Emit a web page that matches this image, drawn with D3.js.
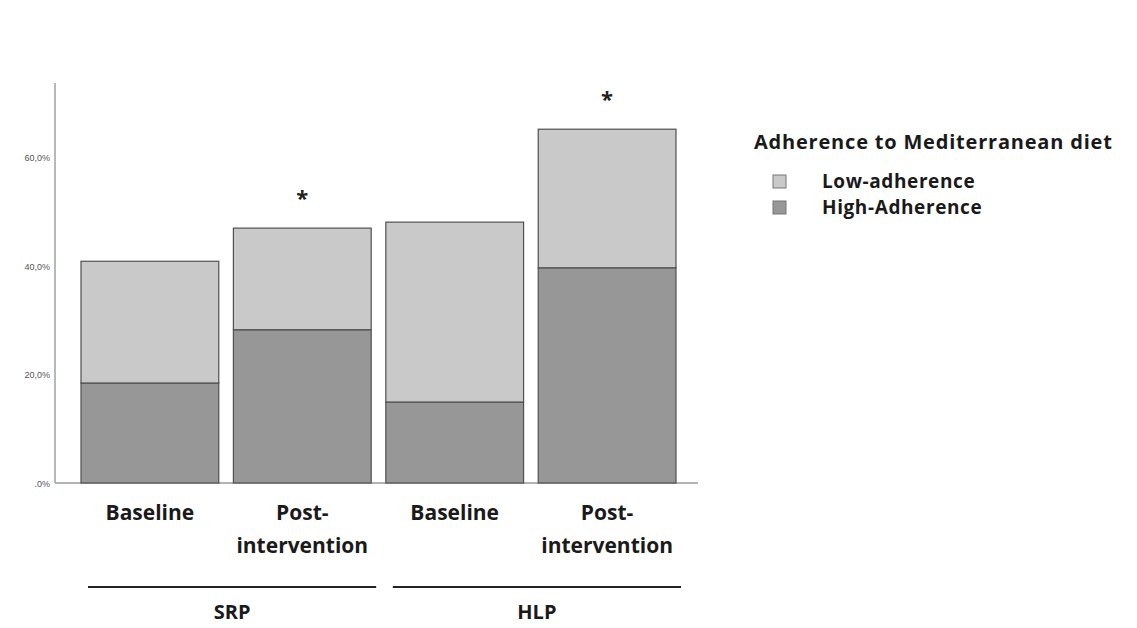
<!DOCTYPE html>
<html>
<head>
<meta charset="utf-8">
<script src="https://cdn.jsdelivr.net/npm/d3@7"></script>
<style>
  body { margin: 0; background: #fff; }
  svg { display: block; }
</style>
</head>
<body>
<div id="chart"></div>
<script>
'use strict';

// Chart data
const groups = ['SRP', 'HLP'];
const barIds = ['SRP-Baseline', 'SRP-Post', 'HLP-Baseline', 'HLP-Post'];
const barGroups = ['SRP', 'SRP', 'HLP', 'HLP'];
const barLabels = [['Baseline'], ['Post-', 'intervention'], ['Baseline'], ['Post-', 'intervention']];
const highAdherence = [18.4, 28.2, 14.9, 39.6];
const lowAdherence = [22.4, 18.7, 33.1, 25.5];
const significant = [false, true, false, true];
const yTicks = [0, 20, 40, 60];
const seriesNames = ['Low-adherence', 'High-Adherence'];
const legendTitle = 'Adherence to Mediterranean diet';

const width = 1137;
const height = 628;
const colors = { 'Low-adherence': '#c9c9c9', 'High-Adherence': '#979797' };

const svg = d3.select('#chart').append('svg')
  .attr('width', width)
  .attr('height', height);

// Scales
const x = d3.scaleBand().domain(barIds).range([81, 676]).paddingInner(0.096).paddingOuter(0);
const y = d3.scaleLinear().domain([0, 73.6]).range([483, 83]);

// Axis lines
svg.append('line')
  .attr('x1', 55).attr('x2', 55)
  .attr('y1', y(73.6)).attr('y2', y(0))
  .attr('stroke', '#b8b8b8').attr('stroke-width', 2);
svg.append('line')
  .attr('x1', 55).attr('x2', 698)
  .attr('y1', y(0)).attr('y2', y(0))
  .attr('stroke', '#9a9a9a').attr('stroke-width', 1.5);

// Tick labels (comma decimal, as in the original)
const fmt = d => d === 0 ? '.0%' : d3.format('.1f')(d).replace('.', ',') + '%';
svg.selectAll('.ytick')
  .data(yTicks)
  .enter().append('text')
  .attr('class', 'ytick')
  .attr('x', 50)
  .attr('y', d => y(d) + 4)
  .attr('text-anchor', 'end')
  .style('font-family', 'Arial, "Liberation Sans", sans-serif')
  .style('font-size', '9px')
  .style('fill', '#555')
  .text(fmt);

// Stacked bars
const rows = barIds.map((id, i) => ({ id: id, high: highAdherence[i], low: lowAdherence[i] }));
const stack = d3.stack().keys(['high', 'low'])(rows);
const keyName = { high: 'High-Adherence', low: 'Low-adherence' };

svg.selectAll('.layer')
  .data(stack)
  .enter().append('g')
  .attr('class', 'layer')
  .attr('fill', d => colors[keyName[d.key]])
  .selectAll('rect')
  .data(d => d)
  .enter().append('rect')
  .attr('x', d => x(d.data.id))
  .attr('width', x.bandwidth())
  .attr('y', d => y(d[1]))
  .attr('height', d => y(d[0]) - y(d[1]))
  .attr('stroke', '#505050')
  .attr('stroke-width', 1.2);

// Significance asterisks
svg.selectAll('.star')
  .data(barIds.filter((id, i) => significant[i]))
  .enter().append('text')
  .attr('class', 'star')
  .attr('x', d => x(d) + x.bandwidth() / 2)
  .attr('y', d => { const i = barIds.indexOf(d); return y(highAdherence[i] + lowAdherence[i]) - 22; })
  .attr('text-anchor', 'middle')
  .style('font-family', '"Open Sans", sans-serif')
  .style('font-weight', 700)
  .style('font-size', '22px')
  .style('fill', '#222')
  .text('*');

// Category labels
const catFont = '"Open Sans", "Noto Sans", sans-serif';
barIds.forEach((id, i) => {
  const t = svg.append('text')
    .attr('x', x(id) + x.bandwidth() / 2)
    .attr('y', 520)
    .attr('text-anchor', 'middle')
    .style('font-family', catFont)
    .style('font-weight', 700)
    .style('font-size', '21px')
    .style('fill', '#1a1a1a');
  barLabels[i].forEach((line, j) => {
    t.append('tspan')
      .attr('x', x(id) + x.bandwidth() / 2)
      .attr('dy', j === 0 ? 0 : 33)
      .text(line);
  });
});

// Group brackets
groups.forEach(g => {
  const ids = barIds.filter((id, i) => barGroups[i] === g);
  const x0 = x(ids[0]) + 7;
  const x1 = x(ids[ids.length - 1]) + x.bandwidth() + 5;
  svg.append('line')
    .attr('x1', x0).attr('x2', x1)
    .attr('y1', 587).attr('y2', 587)
    .attr('stroke', '#222').attr('stroke-width', 2);
  svg.append('text')
    .attr('x', (x0 + x1) / 2)
    .attr('y', 619)
    .attr('text-anchor', 'middle')
    .style('font-family', catFont)
    .style('font-weight', 700)
    .style('font-size', '20px')
    .style('fill', '#1a1a1a')
    .text(g);
});

// Legend
const legend = svg.append('g').attr('transform', 'translate(754, 0)');
legend.append('text')
  .attr('x', 0).attr('y', 149)
  .style('font-family', catFont)
  .style('font-weight', 700)
  .style('font-size', '20px')
  .style('letter-spacing', '0.8px')
  .style('fill', '#1a1a1a')
  .text(legendTitle);

const items = legend.selectAll('.item')
  .data(seriesNames)
  .enter().append('g')
  .attr('class', 'item')
  .attr('transform', (d, i) => `translate(0, ${172 + i * 26})`);
items.append('rect')
  .attr('x', 19).attr('y', 3)
  .attr('width', 13).attr('height', 13)
  .attr('fill', d => colors[d])
  .attr('stroke', '#777').attr('stroke-width', 1);
items.append('text')
  .attr('x', 68).attr('y', 16)
  .style('font-family', catFont)
  .style('font-weight', 700)
  .style('font-size', '19px')
  .style('letter-spacing', '0.6px')
  .style('fill', '#1a1a1a')
  .text(d => d);
</script>
</body>
</html>
